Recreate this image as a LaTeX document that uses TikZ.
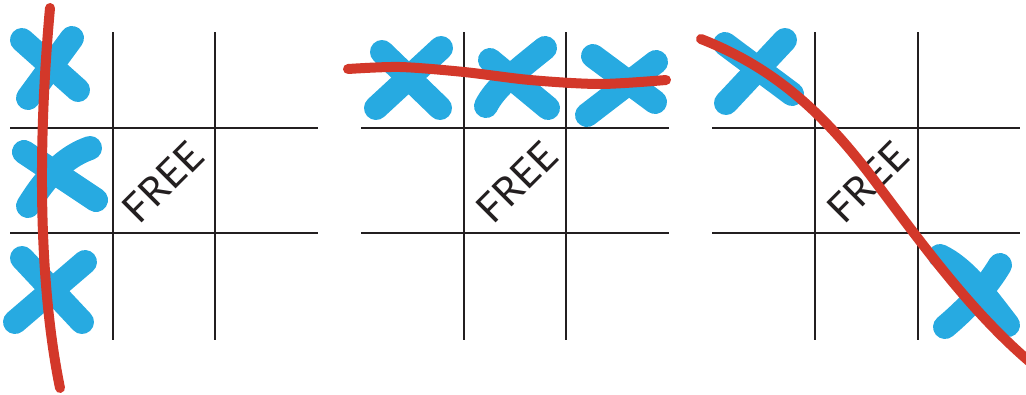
\documentclass[tikz,border=0pt]{standalone}
\usepackage{fontspec}
\setmainfont{Lato}
\definecolor{gridc}{RGB}{35,31,32}
\definecolor{xblue}{RGB}{39,170,225}
\definecolor{lred}{RGB}{211,56,42}
\begin{document}
\begin{tikzpicture}[x=1pt,y=-1pt,
  gridline/.style={draw=gridc,line width=2.2pt},
  xstroke/.style={draw=xblue,line width=24pt,line cap=round},
  winline/.style={draw=lred,line width=10pt,line cap=round},
  freetext/.style={text=gridc,rotate=45,inner sep=0pt,font=\fontsize{40}{48}\selectfont}]
\useasboundingbox (0,0) rectangle (1026,394);
\clip (0,0) rectangle (1026,394);
% grids
\foreach \ox/\vA/\vB in {10/113/215, 361/464/566, 712/815/918}{
  \draw[gridline] (\vA,32) -- (\vA,340);
  \draw[gridline] (\vB,32) -- (\vB,340);
  \draw[gridline] (\ox,128) -- (\ox+308,128);
  \draw[gridline] (\ox,233) -- (\ox+308,233);
}
% board 1 Xs
\draw[xstroke] (22,40) -- (78,90);
\draw[xstroke] (72,38) -- (28,98);
\draw[xstroke] (24,152) -- (96,200);
\draw[xstroke] (90,148) .. controls (70,155) and (50,170) .. (28,206);
\draw[xstroke] (22,258) -- (82,322);
\draw[xstroke] (85,262) -- (15,322);
% board 2 Xs
\draw[xstroke] (382,52) -- (440,108);
\draw[xstroke] (441,48) -- (376,108);
\draw[xstroke] (490,60) -- (548,108);
\draw[xstroke] (545,48) .. controls (515,72) and (495,88) .. (486,106);
\draw[xstroke] (593,56) -- (655,102);
\draw[xstroke] (656,62) -- (587,115);
% board 3 Xs
\draw[xstroke] (725,44) -- (792,94);
\draw[xstroke] (785,40) -- (726,103);
\draw[xstroke] (940,256) .. controls (965,268) and (985,295) .. (1008,325);
\draw[xstroke] (1000,265) .. controls (985,290) and (965,310) .. (945,327);
% FREE labels
\node[freetext] (free1) at (163,182) {FREE};
\node[freetext] (free2) at (517,182) {FREE};
\node[freetext] (free3) at (868,182) {FREE};
% winning lines
\draw[winline] (50,8) .. controls (38,140) and (38,280) .. (60,388);
\draw[winline] plot[smooth] coordinates {(348,69) (400,67) (464,72) (530,80) (600,84) (666,80)};
\draw[winline] (701,39) .. controls (780,70) and (830,120) .. (880,188) .. controls (930,255) and (975,315) .. (1030,362);
\end{tikzpicture}
\end{document}
